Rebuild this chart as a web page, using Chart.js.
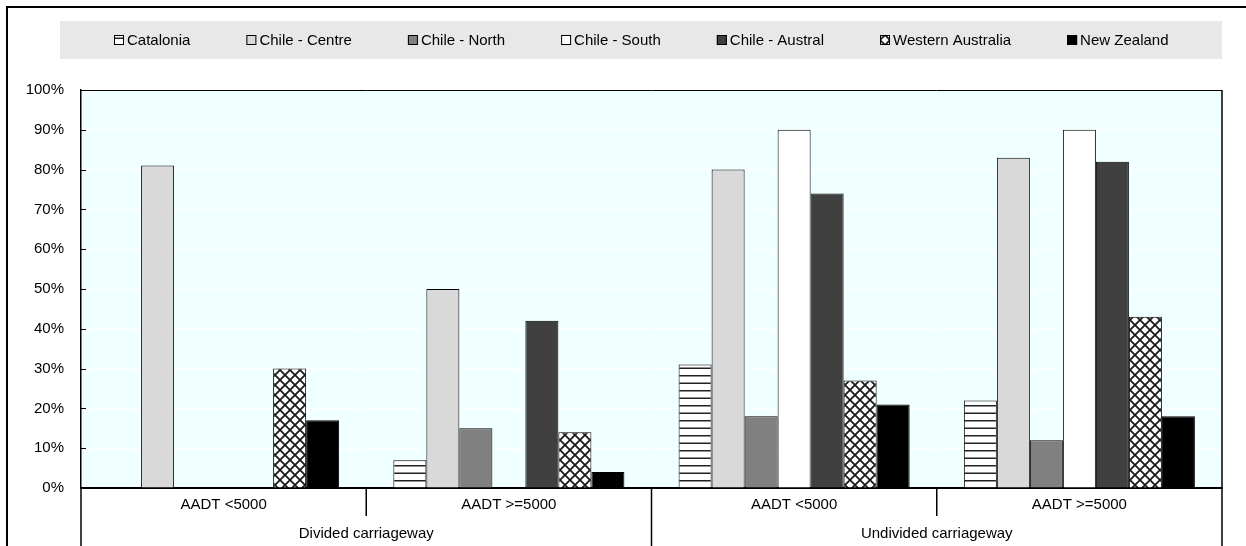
<!DOCTYPE html>
<html>
<head>
<meta charset="utf-8">
<script src="https://cdn.jsdelivr.net/npm/chart.js@4"></script>
<style>
  html, body { margin: 0; padding: 0; background: #ffffff; }
  #wrap { width: 1246px; height: 546px; }
</style>
</head>
<body>
<div id="wrap"><canvas id="chart" width="1246" height="546"></canvas></div>
<script>
// Share of roads by traffic band and carriageway type
const categories = ['AADT <5000', 'AADT >=5000', 'AADT <5000', 'AADT >=5000'];
const groups = ['Divided carriageway', 'Undivided carriageway'];
const seriesNames = ['Catalonia', 'Chile - Centre', 'Chile - North', 'Chile - South', 'Chile - Austral', 'Western Australia', 'New Zealand'];

const catalonia        = [null, 7, 31, 22];
const chileCentre      = [81, 50, 80, 83];
const chileNorth       = [null, 15, 18, 12];
const chileSouth       = [null, null, 90, 90];
const chileAustral     = [null, 42, 74, 82];
const westernAustralia = [30, 14, 27, 43];
const newZealand       = [17, 4, 21, 18];

const FONT = "'Liberation Sans', Arial, sans-serif";

// Horizontal stripe fill
function stripePattern() {
  const c = document.createElement('canvas');
  c.width = 8; c.height = 15;
  const g = c.getContext('2d');
  g.fillStyle = '#ffffff';
  g.fillRect(0, 0, 8, 15);
  g.fillStyle = '#222222';
  g.fillRect(0, 0, 8, 1.5);
  g.fillRect(0, 7.5, 8, 1.5);
  return g.createPattern(c, 'repeat');
}

// Diagonal cross-hatch fill
function hatchPattern() {
  const s = 10;
  const c = document.createElement('canvas');
  c.width = s; c.height = s;
  const g = c.getContext('2d');
  g.fillStyle = '#ffffff';
  g.fillRect(0, 0, s, s);
  g.strokeStyle = '#1a1a1a';
  g.lineWidth = 1.8;
  g.beginPath();
  g.moveTo(-1, -1); g.lineTo(s + 1, s + 1);
  g.moveTo(s + 1, -1); g.lineTo(-1, s + 1);
  g.stroke();
  return g.createPattern(c, 'repeat');
}

const fills = [stripePattern(), '#d9d9d9', '#808080', '#ffffff', '#404040', hatchPattern(), '#000000'];
const values = [catalonia, chileCentre, chileNorth, chileSouth, chileAustral, westernAustralia, newZealand];

const datasets = seriesNames.map((name, i) => ({
  label: name,
  data: values[i],
  backgroundColor: fills[i],
  borderColor: '#000000',
  borderWidth: 1,
  barPercentage: 1.0,
  categoryPercentage: 0.81
}));

const decorations = {
  id: 'decorations',
  beforeDraw(chart) {
    const { ctx, chartArea: a } = chart;
    ctx.save();
    ctx.fillStyle = '#f0ffff';
    ctx.fillRect(a.left, a.top, a.right - a.left, a.bottom - a.top);
    ctx.restore();
  },
  afterDraw(chart) {
    const { ctx, chartArea: a } = chart;
    const W = chart.width, H = chart.height;
    ctx.save();

    // outer frame
    ctx.strokeStyle = '#000000';
    ctx.lineWidth = 2;
    ctx.beginPath();
    ctx.moveTo(7, H); ctx.lineTo(7, 7); ctx.lineTo(W, 7);
    ctx.stroke();

    // plot top and right edges
    ctx.lineWidth = 1;
    ctx.beginPath();
    ctx.moveTo(a.left, a.top + 0.5); ctx.lineTo(a.right, a.top + 0.5);
    ctx.stroke();
    ctx.lineWidth = 1.5;
    ctx.beginPath();
    ctx.moveTo(a.right, a.top); ctx.lineTo(a.right, a.bottom);
    ctx.stroke();

    // small inward tick marks on the value axis
    const y = chart.scales.y;
    ctx.lineWidth = 1;
    y.ticks.forEach(t => {
      if (t.value <= 0 || t.value >= 100) return;
      const py = Math.round(y.getPixelForValue(t.value)) + 0.5;
      ctx.beginPath();
      ctx.moveTo(a.left, py); ctx.lineTo(a.left + 5, py);
      ctx.stroke();
    });

    // category separators below the axis
    const n = categories.length;
    const step = (a.right - a.left) / n;
    ctx.lineWidth = 1.5;
    for (let i = 0; i <= n; i++) {
      const px = a.left + i * step;
      const groupEdge = (i % 2 === 0);
      ctx.beginPath();
      ctx.moveTo(px, a.bottom);
      ctx.lineTo(px, groupEdge ? H : a.bottom + 28);
      ctx.stroke();
    }

    // legend band
    ctx.fillStyle = '#e8e8e8';
    ctx.fillRect(60, 21, a.right - 60, 38);
    ctx.font = '15px ' + FONT;
    ctx.textBaseline = 'middle';
    ctx.textAlign = 'left';
    let lx = 114;
    const ly = 40;
    chart.data.datasets.forEach(ds => {
      ctx.fillStyle = ds.backgroundColor;
      ctx.fillRect(lx, ly - 5, 10, 10);
      ctx.strokeStyle = '#000000';
      ctx.lineWidth = 1;
      ctx.strokeRect(lx + 0.5, ly - 4.5, 9, 9);
      ctx.fillStyle = '#000000';
      ctx.fillText(ds.label, lx + 13, ly + 1);
      lx += 13 + ctx.measureText(ds.label).width + 56;
    });
    ctx.restore();
  }
};

Chart.defaults.font.family = FONT;
Chart.defaults.font.size = 15;
Chart.defaults.color = '#000000';

new Chart(document.getElementById('chart'), {
  type: 'bar',
  data: { labels: categories, datasets },
  options: {
    responsive: false,
    animation: false,
    devicePixelRatio: 1,
    layout: { padding: { top: 90, right: 24, left: 0, bottom: 0 } },
    plugins: { legend: { display: false }, tooltip: { enabled: false } },
    scales: {
      x: {
        type: 'category',
        position: 'bottom',
        weight: 0,
        offset: true,
        grid: { display: false },
        border: { display: true, color: '#000000', width: 2 },
        ticks: { padding: 0, maxRotation: 0, autoSkip: false, font: { size: 15 } },
        afterFit(s) { s.height = 28; }
      },
      x2: {
        type: 'category',
        position: 'bottom',
        weight: 1,
        labels: groups,
        offset: true,
        grid: { display: false },
        border: { display: false },
        ticks: { padding: 1, maxRotation: 0, autoSkip: false, font: { size: 15 } },
        afterFit(s) { s.height = 30; }
      },
      y: {
        min: 0,
        max: 100,
        grid: { color: '#ffffff', lineWidth: 1, drawTicks: false },
        border: { display: true, color: '#000000', width: 1.5 },
        ticks: { stepSize: 10, padding: 17, callback: v => v + '%', font: { size: 15 } },
        afterFit(s) { s.width = 81; }
      }
    }
  },
  plugins: [decorations]
});
</script>
</body>
</html>
